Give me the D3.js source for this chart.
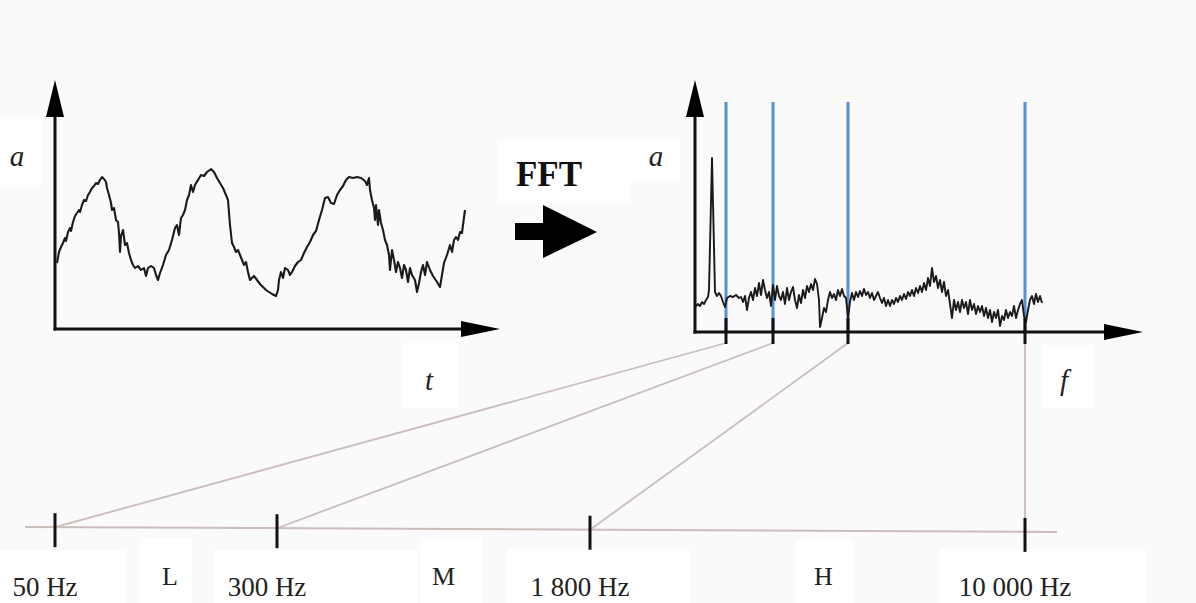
<!DOCTYPE html>
<html>
<head>
<meta charset="utf-8">
<script src="https://cdn.jsdelivr.net/npm/d3@7"></script>
<style>
  body { margin: 0; background: #ffffff; }
  svg { display: block; }
</style>
</head>
<body>
<div id="chart"></div>
<script>
// time signal (t and a in arbitrary units)
let sigT = [2,4,6,8,10,11,13,15,16,18,20,22,24,25,27,29,31,33,35,37,39,41,43,45,47,49,51,52,54,56,57,59,61,63,64,65,66,68,70,72,74,76,78,80,83,86,89,91,93,96,99,101,103,105,108,111,114,117,120,122,124,126,128,130,132,134,136,138,140,143,146,149,152,156,159,162,165,168,171,173,175,177,179,181,183,185,187,189,191,193,195,197,199,202,205,208,211,214,217,221,223,224,226,228,230,233,235,237,240,243,246,249,252,255,258,261,264,267,270,273,276,279,282,285,288,291,294,298,302,306,310,312,314,315,317,319,320,321,323,324,326,328,330,332,334,335,337,339,341,343,345,347,349,351,353,355,357,360,362,364,366,368,370,372,375,378,382,385,387,389,392,395,397,399,401,403,405,407,408,410];
let sigA = [66,77,82,86,91,88,97,101,98,107,113,116,119,117,124,129,128,134,137,141,143,146,145,149,152,150,147,141,134,126,119,121,109,107,96,77,93,99,84,86,76,69,64,61,63,59,61,53,61,63,61,54,49,56,64,74,79,89,101,104,94,111,114,119,129,134,144,137,144,149,154,153,157,160,157,151,146,141,134,129,104,86,82,77,79,74,69,64,67,57,49,51,53,49,45,42,39,37,35,33,39,49,57,51,61,59,54,57,63,67,69,76,82,87,94,98,109,119,131,132,126,125,134,139,143,149,152,151,152,151,148,144,151,139,129,121,109,124,104,119,106,99,89,84,74,59,79,69,57,67,61,51,64,59,47,61,54,49,37,46,57,64,54,67,59,53,47,42,54,66,74,84,77,89,92,89,97,96,104,119];

// spectrum
let specF = [0,3,5,7,9,11,13,14,17,20,22,24,26,28,30,32,35,38,41,44,46,48,50,52,54,56,58,60,62,64,66,68,70,72,74,76,78,80,82,84,86,88,90,92,94,96,98,100,102,104,106,108,110,112,114,116,118,120,122,124,125,127,129,131,133,135,137,139,141,143,145,147,149,151,153,155,157,159,161,163,165,167,169,171,173,175,177,179,181,183,185,187,189,191,193,195,197,199,201,203,205,207,209,211,213,215,217,219,221,223,225,227,229,231,233,235,237,239,241,243,245,247,249,251,253,255,257,259,261,263,265,267,269,271,273,275,277,279,281,283,285,287,289,291,293,295,297,299,301,303,305,307,309,311,313,315,317,319,321,323,325,327,329,331,333,335,337,339,341,343,345,347];
let specA = [25,28,26,30,28,32,35,42,174,40,36,39,36,30,25,34,36,35,37,34,35,30,36,22,34,40,32,44,36,49,37,52,42,34,40,26,47,32,46,36,32,40,28,44,32,40,45,32,24,37,29,42,34,46,40,48,42,53,48,32,5,14,24,20,32,40,34,38,32,42,36,43,36,34,14,30,39,32,40,35,41,36,43,37,40,34,39,32,36,40,34,29,34,26,32,26,32,28,34,30,36,32,38,33,40,36,42,36,44,39,46,40,49,42,54,46,64,50,56,44,52,40,50,36,42,28,14,32,22,30,20,32,24,30,18,32,22,28,18,26,20,26,16,24,14,22,10,20,14,22,6,16,12,22,14,20,16,26,14,22,28,32,16,10,22,32,36,28,38,30,36,29];

// band edges
let bandBin = [31, 78, 153, 330];
let bandFreq = [50, 300, 1800, 10000];
let bandLabel = ["50 Hz", "300 Hz", "1 800 Hz", "10 000 Hz"];
let bandName = ["L", "M", "H"];

let W = 1196, H = 603;
let svg = d3.select("#chart").append("svg").attr("width", W).attr("height", H);
svg.append("rect").attr("width", W).attr("height", H).attr("fill", "#fafafa");

let serif = "'Liberation Serif', 'DejaVu Serif', serif";
let axisColor = "#111";

// white label boxes
let boxes = [
    [0, 117, 42, 68], [497, 140, 133, 63], [630, 140, 50, 43],
    [403, 343, 54, 65], [1042, 345, 53, 63],
    [0, 550, 125, 53], [140, 538, 52, 65], [213, 550, 205, 53],
    [420, 537, 62, 66], [507, 549, 182, 54], [796, 540, 58, 63], [940, 549, 205, 54]
];
svg.selectAll(".box").data(boxes).enter().append("rect")
    .attr("x", d => d[0]).attr("y", d => d[1]).attr("width", d => d[2]).attr("height", d => d[3])
    .attr("fill", "#ffffff");

// ---- left panel: time signal
let xT = d3.scaleLinear().domain([0, 445]).range([55, 500]);
let yA = d3.scaleLinear().domain([0, 249]).range([329, 80]);

function drawAxes(xs, ys) {
    let x0 = xs.range()[0], x1 = xs.range()[1];
    let y0 = ys.range()[0], y1 = ys.range()[1];
    let g = svg.append("g");
    g.append("line").attr("x1", x0).attr("x2", x0).attr("y1", y0 + 1.5).attr("y2", y1 + 30)
        .attr("stroke", axisColor).attr("stroke-width", 3);
    g.append("line").attr("x1", x0 - 1.5).attr("x2", x1 - 30).attr("y1", y0).attr("y2", y0)
        .attr("stroke", axisColor).attr("stroke-width", 3);
    g.append("path").attr("d", `M${x0},${y1}L${x0 + 9},${y1 + 37}L${x0 - 9},${y1 + 37}Z`).attr("fill", "#000");
    g.append("path").attr("d", `M${x1},${y0}L${x1 - 39},${y0 - 8}L${x1 - 39},${y0 + 8}Z`).attr("fill", "#000");
}

drawAxes(xT, yA);

svg.append("path")
    .datum(sigT.map((t, i) => [t, sigA[i]]))
    .attr("d", d3.line().x(d => xT(d[0])).y(d => yA(d[1])))
    .attr("fill", "none").attr("stroke", "#1a1a1a").attr("stroke-width", 2.1).attr("stroke-linejoin", "round");

// ---- right panel: spectrum
let xF = d3.scaleLinear().domain([0, 448]).range([695, 1143]);
let yS = d3.scaleLinear().domain([0, 252]).range([332, 80]);

// band markers (blue)
svg.selectAll(".band").data(bandBin).enter().append("line")
    .attr("x1", d => xF(d)).attr("x2", d => xF(d))
    .attr("y1", yS(230)).attr("y2", yS(0))
    .attr("stroke", "#5a8fd0").attr("stroke-width", 3);

svg.append("path")
    .datum(specF.map((f, i) => [f, specA[i]]))
    .attr("d", d3.line().x(d => xF(d[0])).y(d => yS(d[1])))
    .attr("fill", "none").attr("stroke", "#1a1a1a").attr("stroke-width", 1.9).attr("stroke-linejoin", "round");

drawAxes(xF, yS);

// ---- bottom frequency line
let xHz = d3.scaleLinear().domain(bandFreq).range([55, 277, 590, 1025]);
let lineY = d3.scaleLinear().domain([25, 1057]).range([527, 532]);
let linkColor = "#cbbdb9";

// connectors from spectrum ticks to bottom ticks
svg.selectAll(".link").data(bandBin).enter().append("line")
    .attr("x1", d => xF(d)).attr("y1", yS(0) + 11)
    .attr("x2", (d, i) => xHz(bandFreq[i])).attr("y2", (d, i) => lineY(xHz(bandFreq[i])))
    .attr("stroke", linkColor).attr("stroke-width", 1.8);

svg.append("line").attr("x1", 25).attr("x2", 1057).attr("y1", lineY(25)).attr("y2", lineY(1057))
    .attr("stroke", linkColor).attr("stroke-width", 2);

// spectrum ticks
svg.selectAll(".stick").data(bandBin).enter().append("line")
    .attr("x1", d => xF(d)).attr("x2", d => xF(d))
    .attr("y1", yS(0) - 14).attr("y2", yS(0) + 12)
    .attr("stroke", axisColor).attr("stroke-width", 3);

// bottom ticks
svg.selectAll(".btick").data(bandFreq).enter().append("line")
    .attr("x1", d => xHz(d)).attr("x2", d => xHz(d))
    .attr("y1", d => lineY(xHz(d)) - 14).attr("y2", d => lineY(xHz(d)) + 20)
    .attr("stroke", axisColor).attr("stroke-width", 3);

svg.selectAll(".blabel").data(bandFreq).enter().append("text")
    .attr("x", d => xHz(d) - 10).attr("y", 596)
    .attr("text-anchor", "middle")
    .style("font", `27px ${serif}`).attr("fill", "#222")
    .text((d, i) => bandLabel[i]);

svg.selectAll(".bname").data(bandName).enter().append("text")
    .attr("x", (d, i) => (xHz(bandFreq[i]) + xHz(bandFreq[i + 1])) / 2 + 4 + i * 6)
    .attr("y", 585)
    .attr("text-anchor", "middle")
    .style("font", `26px ${serif}`).attr("fill", "#222")
    .text(d => d);

// ---- axis letters
let letters = [
    {text: "a", x: 17, y: 166}, {text: "t", x: 429, y: 390},
    {text: "a", x: 656, y: 166}, {text: "f", x: 1064, y: 390}
];
svg.selectAll(".letter").data(letters).enter().append("text")
    .attr("x", d => d.x).attr("y", d => d.y).attr("text-anchor", "middle")
    .style("font", `italic 29px ${serif}`).attr("fill", "#222")
    .text(d => d.text);

// ---- FFT arrow
svg.append("text").attr("x", 549).attr("y", 186).attr("text-anchor", "middle")
    .style("font", `bold 35px ${serif}`).attr("fill", "#111").text("FFT");
svg.append("path")
    .attr("d", "M515,223L543,223L543,205L597,232L543,258L543,240L515,240Z")
    .attr("fill", "#000");
</script>
</body>
</html>
